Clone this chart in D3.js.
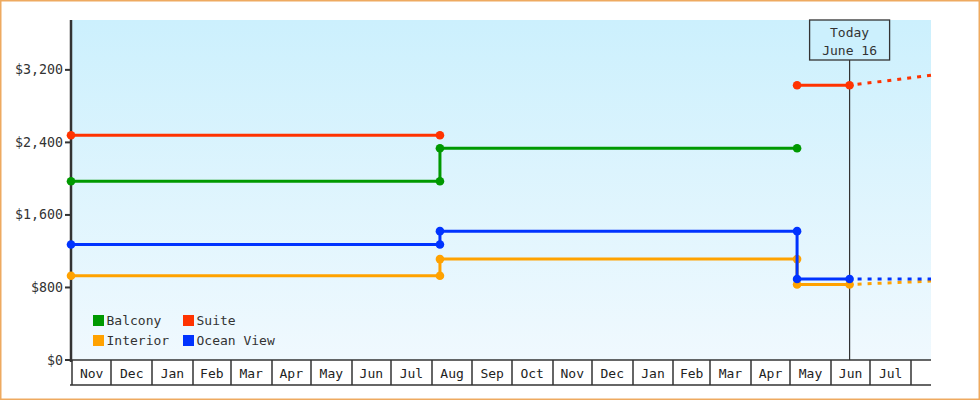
<!DOCTYPE html>
<html><head><meta charset="utf-8">
<script src="https://cdn.jsdelivr.net/npm/d3@7"></script>
<style>
html,body{margin:0;padding:0;background:#fff;}
svg{display:block;font-family:"DejaVu Sans Mono",monospace;}
</style></head>
<body>
<svg id="chart" width="980" height="400"></svg>
<script>
// ---- data ----
const seriesNames = ["Balcony", "Suite", "Interior", "Ocean View"];
const seriesColors = ["#009900", "#ff3300", "#ffa200", "#0033ff"];

const balconyDates  = ["2023-11-01", "2024-08-08", "2024-08-08", "2025-05-07"];
const balconyPrices = [1972, 1972, 2336, 2336];

const suiteDates  = ["2023-11-01", "2024-08-08", "2024-12-01", "2025-05-07", "2025-06-16"];
const suitePrices = [2479, 2479, null, 3030, 3030];
const suiteProjDates  = ["2025-06-16", "2025-08-17"];
const suiteProjPrices = [3030, 3140];

const interiorDates  = ["2023-11-01", "2024-08-08", "2024-08-08", "2025-05-07", "2025-05-07", "2025-06-16"];
const interiorPrices = [929, 929, 1113, 1113, 833, 833];
const interiorProjDates  = ["2025-06-16", "2025-08-17"];
const interiorProjPrices = [833, 870];

const oceanDates  = ["2023-11-01", "2024-08-08", "2024-08-08", "2025-05-07", "2025-05-07", "2025-06-16"];
const oceanPrices = [1274, 1274, 1421, 1421, 893, 893];
const oceanProjDates  = ["2025-06-16", "2025-08-17"];
const oceanProjPrices = [893, 893];

const yTicks = [0, 800, 1600, 2400, 3200];
const monthStarts = ["2023-11-01","2023-12-01","2024-01-01","2024-02-01","2024-03-01","2024-04-01","2024-05-01",
  "2024-06-01","2024-07-01","2024-08-01","2024-09-01","2024-10-01","2024-11-01","2024-12-01","2025-01-01",
  "2025-02-01","2025-03-01","2025-04-01","2025-05-01","2025-06-01","2025-07-01","2025-08-01"];
const monthLabels = ["Nov","Dec","Jan","Feb","Mar","Apr","May","Jun","Jul","Aug","Sep","Oct","Nov","Dec","Jan",
  "Feb","Mar","Apr","May","Jun","Jul"];
const domainDates = ["2023-11-01", "2025-08-17"];
const todayDate = "2025-06-16";
const todayLabel = ["Today", "June 16"];
const yMax = 3750;

// ---- drawing ----
const parse = d3.utcParse("%Y-%m-%d");
const svg = d3.select("#chart");
const L = 71, R = 931, T = 20, B = 360;

const x = d3.scaleUtc().domain(domainDates.map(parse)).range([L, R]);
const y = d3.scaleLinear().domain([0, yMax]).range([B, T]);

// outer border
svg.append("rect").attr("x", 0.75).attr("y", 0.75).attr("width", 978.5).attr("height", 398.5)
  .attr("fill", "#fff").attr("stroke", "#eeaa60").attr("stroke-width", 1.5);

// gradient background
const defs = svg.append("defs");
const grad = defs.append("linearGradient").attr("id", "bg").attr("x1", 0).attr("y1", 0).attr("x2", 0).attr("y2", 1);
grad.append("stop").attr("offset", "0%").attr("stop-color", "#ccf0fd");
grad.append("stop").attr("offset", "100%").attr("stop-color", "#f0f9fe");
svg.append("rect").attr("x", L).attr("y", T).attr("width", R - L).attr("height", B - T).attr("fill", "url(#bg)");

// x axis month boxes
const ms = monthStarts.map(parse);
const xa = svg.append("g");
xa.append("line").attr("x1", L).attr("x2", R).attr("y1", B).attr("y2", B).attr("stroke", "#333").attr("stroke-width", 1.5);
xa.append("line").attr("x1", L - 1).attr("x2", R).attr("y1", 385).attr("y2", 385).attr("stroke", "#333").attr("stroke-width", 1.5);
xa.selectAll("line.div").data(ms).join("line").attr("class", "div")
  .attr("x1", d => Math.round(x(d)) + 1).attr("x2", d => Math.round(x(d)) + 1)
  .attr("y1", B).attr("y2", 385).attr("stroke", "#333").attr("stroke-width", 1.5);
xa.selectAll("text").data(monthLabels).join("text")
  .attr("x", (d, i) => (x(ms[i]) + x(ms[i + 1])) / 2 + 1)
  .attr("y", 378).attr("text-anchor", "middle").attr("font-size", 13).attr("fill", "#222")
  .text(d => d);

// y axis
const ya = svg.append("g");
ya.append("line").attr("x1", L).attr("x2", L).attr("y1", T).attr("y2", B + 2).attr("stroke", "#333").attr("stroke-width", 2.5);
ya.selectAll("line.tk").data(yTicks).join("line").attr("class", "tk")
  .attr("x1", L - 6).attr("x2", L).attr("y1", d => y(d)).attr("y2", d => y(d))
  .attr("stroke", "#333").attr("stroke-width", 2);
ya.selectAll("text").data(yTicks).join("text")
  .attr("x", L - 8).attr("y", d => y(d) + 4.5).attr("text-anchor", "end")
  .attr("font-size", 13.3).attr("fill", "#333")
  .text(d => "$" + d3.format(",")(d));

// today marker
const tx = x(parse(todayDate));
svg.append("line").attr("x1", tx).attr("x2", tx).attr("y1", 60).attr("y2", B)
  .attr("stroke", "#333").attr("stroke-width", 1.2);
svg.append("rect").attr("x", tx - 40).attr("y", T).attr("width", 80).attr("height", 40)
  .attr("fill", "#ccf0fd").attr("stroke", "#333").attr("stroke-width", 1.3);
svg.selectAll("text.today").data(todayLabel).join("text").attr("class", "today")
  .attr("x", tx).attr("y", (d, i) => 37 + i * 18).attr("text-anchor", "middle")
  .attr("font-size", 13).attr("fill", "#333").text(d => d);

// series
const line = d3.line().defined(d => d.v != null).x(d => x(d.t)).y(d => y(d.v));
function pts(ds, vs) { return ds.map((d, i) => ({ t: parse(d), v: vs[i] })); }

const series = [
  { name: "Balcony", c: 0, data: pts(balconyDates, balconyPrices), proj: null },
  { name: "Interior", c: 2, data: pts(interiorDates, interiorPrices), proj: pts(interiorProjDates, interiorProjPrices) },
  { name: "Suite", c: 1, data: pts(suiteDates, suitePrices), proj: pts(suiteProjDates, suiteProjPrices) },
  { name: "Ocean View", c: 3, data: pts(oceanDates, oceanPrices), proj: pts(oceanProjDates, oceanProjPrices) }
];

series.forEach(s => {
  const col = seriesColors[s.c];
  const g = svg.append("g");
  if (s.proj) {
    g.append("path").attr("d", line(s.proj)).attr("fill", "none").attr("stroke", col)
      .attr("stroke-width", 3).attr("stroke-dasharray", "4,6").attr("stroke-dashoffset", -8);
  }
  g.append("path").attr("d", line(s.data)).attr("fill", "none").attr("stroke", col).attr("stroke-width", 3);
  g.selectAll("circle").data(s.data.filter(d => d.v != null)).join("circle")
    .attr("cx", d => x(d.t)).attr("cy", d => y(d.v)).attr("r", 4.3).attr("fill", col);
});

// legend
const legendPos = [[93, 315], [183, 315], [93, 335], [183, 335]];
seriesNames.forEach((n, i) => {
  const [lx, ly] = legendPos[i];
  svg.append("rect").attr("x", lx).attr("y", ly).attr("width", 11).attr("height", 11).attr("fill", seriesColors[i]);
  svg.append("text").attr("x", lx + 13.5).attr("y", ly + 10).attr("font-size", 13).attr("fill", "#333").text(n);
});
</script>
</body></html>
